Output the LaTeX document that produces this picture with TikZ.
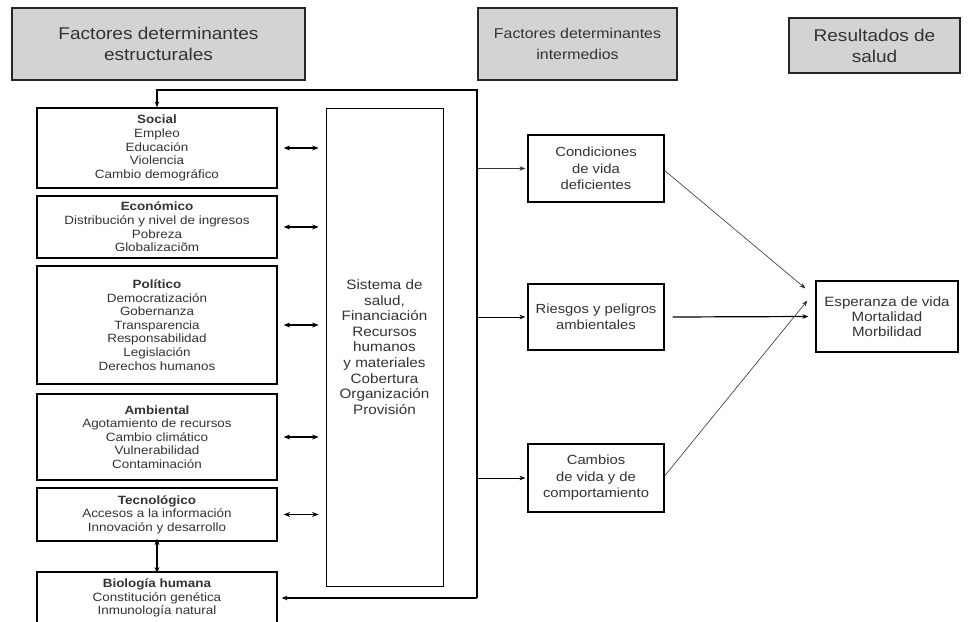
\documentclass[tikz,border=0pt]{standalone}
\usepackage{fontspec}
\setmainfont{Liberation Sans}[FakeStretch=1.12]
\usetikzlibrary{arrows.meta}
\definecolor{txt}{HTML}{333333}
\definecolor{hdrfill}{HTML}{D3D3D3}
\tikzset{
  hdr/.style={draw=black!85, line width=1.8pt, fill=hdrfill, align=center, inner sep=0pt, text=txt,
    font=\fontsize{17}{21}\selectfont},
  lbox/.style={draw=black, line width=1.2pt, align=center, inner sep=0pt, text=txt, minimum width=240pt,
    font=\fontsize{12}{13.6}\selectfont},
  sysbox/.style={draw=black, line width=0.8pt, align=center, inner sep=0pt, text=txt,
    font=\fontsize{13.6}{15.6}\selectfont},
  rbox/.style={draw=black, line width=1.2pt, align=center, inner sep=0pt, text=txt,
    font=\fontsize{13.2}{16.5}\selectfont},
  arr/.style={draw=black, line width=0.9pt, -{Stealth[length=6pt,width=4.5pt]}},
  darr/.style={draw=black, line width=1.1pt, {Stealth[length=6.5pt,width=5pt]}-{Stealth[length=6.5pt,width=5pt]}},
  thinarr/.style={draw=black!80, line width=0.6pt, -{Stealth[length=6pt,width=4.5pt]}},
}
\begin{document}
\begin{tikzpicture}[x=1pt,y=-1pt]
\useasboundingbox[fill=white] (0,0) rectangle (971,621);
% headers
\node[hdr, minimum width=293pt, minimum height=72pt] (h1) at (158.5,44) {Factores determinantes\\estructurales};
\node[hdr, minimum width=199pt, minimum height=72pt, font=\fontsize{14.2}{21}\selectfont] (h2) at (577.5,44) {Factores determinantes\\intermedios};
\node[hdr, minimum width=171pt, minimum height=55pt] (h3) at (874.5,45.5) {Resultados de\\salud};
% left boxes
\node[lbox, minimum height=80pt] (soc) at (157,148) {\textbf{Social}\\Empleo\\Educación\\Violencia\\Cambio demográfico};
\node[lbox, minimum height=62pt] (eco) at (157,227) {\textbf{Económico}\\Distribución y nivel de ingresos\\Pobreza\\Globalizaciõm};
\node[lbox, minimum height=118pt] (pol) at (157,325) {\textbf{Político}\\Democratización\\Gobernanza\\Transparencia\\Responsabilidad\\Legislación\\Derechos humanos};
\node[lbox, minimum height=86pt] (amb) at (157,437) {\textbf{Ambiental}\\Agotamiento de recursos\\Cambio climático\\Vulnerabilidad\\Contaminación};
\node[lbox, minimum height=53pt] (tec) at (157,514.5) {\textbf{Tecnológico}\\Accesos a la información\\Innovación y desarrollo};
\node[lbox, minimum height=52pt] (bio) at (157,598) {\textbf{Biología humana}\\Constitución genética\\Inmunología natural};
% central box
\node[sysbox, minimum width=117pt, minimum height=478pt] (sys) at (384.5,347) {Sistema de\\salud,\\Financiación\\Recursos\\humanos\\y materiales\\Cobertura\\Organización\\Provisión};
% right boxes
\node[rbox, minimum width=136pt, minimum height=67pt] (cond) at (596,168.5) {Condiciones\\de vida\\deficientes};
\node[rbox, minimum width=136pt, minimum height=66pt] (ries) at (596,317) {Riesgos y peligros\\ambientales};
\node[rbox, minimum width=136pt, minimum height=68pt] (camb) at (596,478) {Cambios\\de vida y de\\comportamiento};
\node[rbox, minimum width=142pt, minimum height=71pt, font=\fontsize{13.5}{15}\selectfont] (esp) at (887,316.5) {Esperanza de vida\\Mortalidad\\Morbilidad};
% loop line
\coordinate (ltop) at (477,90);
\coordinate (lbot) at (477,598);
\draw[arr, line width=1.1pt] (lbot) -- (ltop) -| (soc.north);
\draw[arr, line width=1.1pt] (lbot) -- ([xshift=4pt]bio.east);
% double arrows left
\foreach \n in {soc,eco,pol,amb,tec}{
  \draw[darr] ([xshift=6pt]\n.east) -- ([xshift=-7pt]\n.east -| sys.west);
}
\draw[darr] ([yshift=3pt]tec.south) -- ([yshift=-2pt]bio.north);
% arrows to intermediate factors
\draw[thinarr] (cond.west -| ltop) -- ([xshift=-2pt]cond.west);
\draw[arr] (ries.west -| ltop) -- ([xshift=-2pt]ries.west);
\draw[arr] (camb.west -| ltop) -- ([xshift=-2pt]camb.west);
% arrows to results
\draw[thinarr] ([yshift=-2pt]cond.east) -- ([xshift=-10pt,yshift=-8pt]esp.north west);
\draw[arr, line width=1.2pt] ([xshift=8pt]ries.east) -- ([xshift=-7pt]esp.west);
\draw[thinarr] ([yshift=2pt]camb.east) -- ([xshift=-8pt,yshift=16pt]esp.west);
\end{tikzpicture}
\end{document}
